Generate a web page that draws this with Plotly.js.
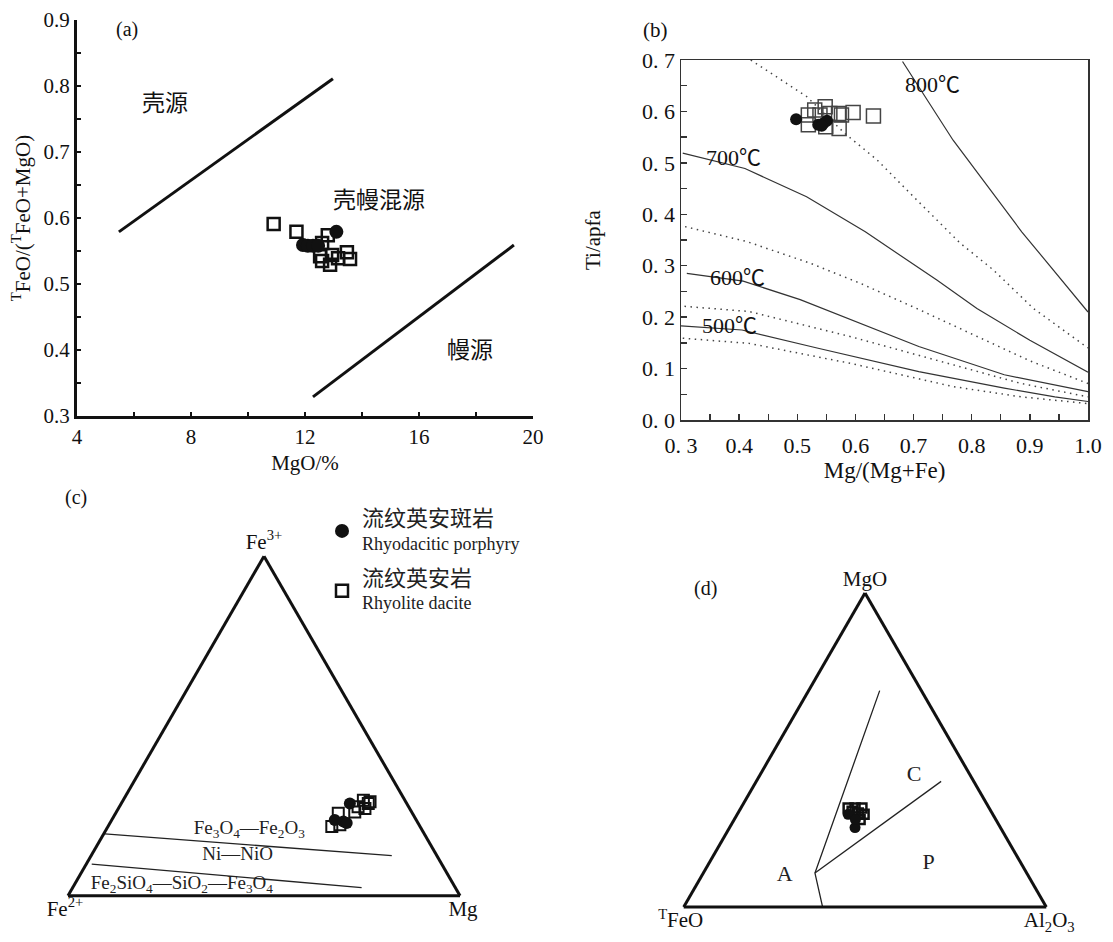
<!DOCTYPE html>
<html><head><meta charset="utf-8">
<script src="https://cdn.plot.ly/plotly-3.0.1.min.js"></script>
<style>html,body{margin:0;padding:0;background:#fff}</style>
</head><body><div id="chart" style="width:1113px;height:942px"></div>
<script>
// ---------- Panel (a): TFeO/(TFeO+MgO) vs MgO ----------
const aPorphyryMgO   = [13.1, 11.93, 12.1, 12.28, 12.46];
const aPorphyryRatio = [0.579, 0.559, 0.558, 0.558, 0.558];
const aDaciteMgO     = [10.9, 11.7, 12.8, 12.6, 12.53, 12.6, 12.88, 12.95, 13.16, 13.47, 13.58];
const aDaciteRatio   = [0.591, 0.579, 0.574, 0.562, 0.542, 0.535, 0.529, 0.544, 0.539, 0.548, 0.538];
const aUpperLineX = [5.47, 12.98];
const aUpperLineY = [0.579, 0.811];
const aLowerLineX = [12.28, 19.33];
const aLowerLineY = [0.329, 0.559];

// ---------- Panel (b): Ti vs Mg/(Mg+Fe) ----------
const bPorphyryX = [0.498, 0.536, 0.545, 0.551, 0.542];
const bPorphyryY = [0.585, 0.574, 0.577, 0.582, 0.572];
const bDaciteX = [0.519, 0.519, 0.53, 0.548, 0.556, 0.571, 0.576, 0.596, 0.631, 0.572, 0.549, 0.539];
const bDaciteY = [0.593, 0.574, 0.603, 0.609, 0.596, 0.596, 0.593, 0.598, 0.591, 0.567, 0.570, 0.593];
const b800X = [0.681, 0.768, 0.886, 1.0];
const b800Y = [0.697, 0.544, 0.366, 0.21];
const b700X = [0.303, 0.41, 0.516, 0.617, 0.74, 0.809, 0.9, 1.0];
const b700Y = [0.519, 0.489, 0.434, 0.366, 0.272, 0.217, 0.155, 0.093];
const b600X = [0.31, 0.407, 0.505, 0.709, 0.856, 1.0];
const b600Y = [0.285, 0.27, 0.234, 0.143, 0.088, 0.055];
const b500X = [0.30, 0.405, 0.534, 0.709, 0.856, 0.943, 1.0];
const b500Y = [0.183, 0.175, 0.14, 0.094, 0.062, 0.045, 0.036];
const bDot1X = [0.42, 0.516, 0.582, 0.637, 0.70, 0.78, 0.837, 0.906, 1.0];
const bDot1Y = [0.70, 0.629, 0.557, 0.506, 0.434, 0.344, 0.292, 0.217, 0.14];
const bDot2X = [0.307, 0.413, 0.522, 0.608, 0.705, 0.80, 0.90, 1.0];
const bDot2Y = [0.376, 0.347, 0.305, 0.266, 0.217, 0.168, 0.115, 0.071];
const bDot3X = [0.306, 0.417, 0.592, 0.768, 0.885, 1.0];
const bDot3Y = [0.221, 0.211, 0.162, 0.107, 0.071, 0.045];
const bDot4X = [0.303, 0.417, 0.592, 0.768, 0.885, 1.0];
const bDot4Y = [0.159, 0.149, 0.11, 0.065, 0.045, 0.032];
const bXTickVals = [0.3, 0.4, 0.5, 0.6, 0.7, 0.8, 0.9, 1.0];
const bXTickText = ['0.\u00a03', '0.4', '0.5', '0.6', '0.7', '0.8', '0.9', '1.0'];
const bYTickVals = [0, 0.1, 0.2, 0.3, 0.4, 0.5, 0.6, 0.7];
const bYTickText = ['0.\u00a00', '0.\u00a01', '0.\u00a02', '0.\u00a03', '0.\u00a04', '0.\u00a05', '0.\u00a06', '0.\u00a07'];
const bIsoLabels = ['800℃', '700℃', '600℃', '500℃'];
const bIsoLabelX = [0.732, 0.39, 0.398, 0.383];
const bIsoLabelY = [0.653, 0.511, 0.278, 0.183];

// ---------- Panel (c): Fe3+ - Fe2+ - Mg ----------
const cPorFe3 = [0.272, 0.223, 0.219, 0.214];
const cPorFe2 = [0.145, 0.208, 0.188, 0.182];
const cPorMg  = [0.583, 0.569, 0.593, 0.604];
const cDacFe3 = [0.281, 0.272, 0.257, 0.262, 0.243, 0.204, 0.209, 0.247, 0.277];
const cDacFe2 = [0.106, 0.098, 0.114, 0.129, 0.189, 0.225, 0.202, 0.145, 0.091];
const cDacMg  = [0.613, 0.630, 0.629, 0.609, 0.568, 0.571, 0.589, 0.608, 0.632];
const cHmMtFe3 = [0.182, 0.118], cHmMtFe2 = [0.815, 0.115], cHmMtMg = [0.003, 0.767];
const cNnoFe3  = [0.093, 0.024], cNnoFe2  = [0.893, 0.239], cNnoMg  = [0.014, 0.737];
const cLabels  = ['Fe<sub>3</sub>O<sub>4</sub>—Fe<sub>2</sub>O<sub>3</sub>', 'Ni—NiO',
                  'Fe<sub>2</sub>SiO<sub>4</sub>—SiO<sub>2</sub>—Fe<sub>3</sub>O<sub>4</sub>'];
const cLabelFe3 = [0.195, 0.118, 0.035];
const cLabelFe2 = [0.440, 0.508, 0.692];
const cLabelMg  = [0.365, 0.374, 0.273];

// ---------- Panel (d): MgO - TFeO - Al2O3 ----------
const dPorMgO = [0.295, 0.253, 0.279];
const dPorFeO = [0.399, 0.401, 0.387];
const dPorAl  = [0.306, 0.346, 0.334];
const dDacMgO = [0.315, 0.315, 0.315, 0.295, 0.279, 0.305, 0.299];
const dDacFeO = [0.389, 0.370, 0.351, 0.355, 0.374, 0.383, 0.369];
const dDacAl  = [0.296, 0.315, 0.334, 0.350, 0.347, 0.312, 0.332];
const dBound1MgO = [0.689, 0.108, 0.0], dBound1FeO = [0.115, 0.584, 0.617], dBound1Al = [0.196, 0.308, 0.383];
const dBound2MgO = [0.108, 0.40], dBound2FeO = [0.584, 0.09], dBound2Al = [0.308, 0.51];
const dLabels = ['A', 'C', 'P'];
const dLabelMgO = [0.099, 0.419, 0.137];
const dLabelFeO = [0.672, 0.155, 0.256];
const dLabelAl  = [0.229, 0.426, 0.607];

const legendPorphyry = '<span style="font-size:22px">流纹英安斑岩</span><br>Rhyodacitic porphyry';
const legendDacite   = '<span style="font-size:22px">流纹英安岩</span><br>Rhyolite dacite';

// ---------- build ----------
const FONT = '"Liberation Serif", "Times New Roman", "Noto Sans CJK SC", serif';
const W = 1113, H = 942;
const px = v => v / W, py = v => 1 - v / H;
const black = '#111';
const circ = (size) => ({symbol: 'circle', size: size, color: black, line: {width: 0}});
const sq = (size, lw, col) => ({symbol: 'square-open', size: size, color: col || black, line: {width: lw, color: col || black}});
const solid = {color: '#333', width: 1.2};
const dotted = {color: '#444', width: 1.5, dash: '1.5px,4.5px'};

const traces = [
  // (a)
  {x: aUpperLineX, y: aUpperLineY, mode: 'lines', line: {color: black, width: 3}, xaxis: 'x', yaxis: 'y', showlegend: false},
  {x: aLowerLineX, y: aLowerLineY, mode: 'lines', line: {color: black, width: 3}, xaxis: 'x', yaxis: 'y', showlegend: false},
  {x: aDaciteMgO, y: aDaciteRatio, mode: 'markers', marker: sq(12, 2.5), xaxis: 'x', yaxis: 'y',
   name: legendDacite, legendgroup: 'g2', legendrank: 2},
  {x: aPorphyryMgO, y: aPorphyryRatio, mode: 'markers', marker: circ(14), xaxis: 'x', yaxis: 'y',
   name: legendPorphyry, legendgroup: 'g1', legendrank: 1},
  // (b)
  {x: b800X, y: b800Y, mode: 'lines', line: solid, xaxis: 'x2', yaxis: 'y2', showlegend: false},
  {x: b700X, y: b700Y, mode: 'lines', line: solid, xaxis: 'x2', yaxis: 'y2', showlegend: false},
  {x: b600X, y: b600Y, mode: 'lines', line: solid, xaxis: 'x2', yaxis: 'y2', showlegend: false},
  {x: b500X, y: b500Y, mode: 'lines', line: solid, xaxis: 'x2', yaxis: 'y2', showlegend: false},
  {x: bDot1X, y: bDot1Y, mode: 'lines', line: dotted, xaxis: 'x2', yaxis: 'y2', showlegend: false},
  {x: bDot2X, y: bDot2Y, mode: 'lines', line: dotted, xaxis: 'x2', yaxis: 'y2', showlegend: false},
  {x: bDot3X, y: bDot3Y, mode: 'lines', line: dotted, xaxis: 'x2', yaxis: 'y2', showlegend: false},
  {x: bDot4X, y: bDot4Y, mode: 'lines', line: dotted, xaxis: 'x2', yaxis: 'y2', showlegend: false},
  {x: bDaciteX, y: bDaciteY, mode: 'markers', marker: sq(14, 1.5, '#444'), xaxis: 'x2', yaxis: 'y2', showlegend: false},
  {x: bPorphyryX, y: bPorphyryY, mode: 'markers', marker: circ(12), xaxis: 'x2', yaxis: 'y2', showlegend: false},
  // (c)
  {type: 'scatterternary', subplot: 'ternary', a: cHmMtFe3, b: cHmMtFe2, c: cHmMtMg, mode: 'lines', line: {color: '#222', width: 1.3}, showlegend: false},
  {type: 'scatterternary', subplot: 'ternary', a: cNnoFe3, b: cNnoFe2, c: cNnoMg, mode: 'lines', line: {color: '#222', width: 1.3}, showlegend: false},
  {type: 'scatterternary', subplot: 'ternary', a: cLabelFe3, b: cLabelFe2, c: cLabelMg, mode: 'text', text: cLabels,
   textfont: {family: FONT, size: 19, color: '#222'}, textposition: 'middle center', showlegend: false},
  {type: 'scatterternary', subplot: 'ternary', a: cDacFe3, b: cDacFe2, c: cDacMg, mode: 'markers', marker: sq(11, 2), showlegend: false},
  {type: 'scatterternary', subplot: 'ternary', a: cPorFe3, b: cPorFe2, c: cPorMg, mode: 'markers', marker: circ(12), showlegend: false},
  // (d)
  {type: 'scatterternary', subplot: 'ternary2', a: dBound1MgO, b: dBound1FeO, c: dBound1Al, mode: 'lines', line: {color: '#222', width: 1.3}, showlegend: false},
  {type: 'scatterternary', subplot: 'ternary2', a: dBound2MgO, b: dBound2FeO, c: dBound2Al, mode: 'lines', line: {color: '#222', width: 1.3}, showlegend: false},
  {type: 'scatterternary', subplot: 'ternary2', a: dLabelMgO, b: dLabelFeO, c: dLabelAl, mode: 'text', text: dLabels,
   textfont: {family: FONT, size: 22, color: '#222'}, textposition: 'middle center', showlegend: false},
  {type: 'scatterternary', subplot: 'ternary2', a: dDacMgO, b: dDacFeO, c: dDacAl, mode: 'markers', marker: sq(9, 2.5), showlegend: false},
  {type: 'scatterternary', subplot: 'ternary2', a: dPorMgO, b: dPorFeO, c: dPorAl, mode: 'markers', marker: circ(11), showlegend: false}
];

const tickFontA = {family: FONT, size: 21, color: black};
const tickFontB = {family: FONT, size: 22, color: black};
const ternAxis = (title) => ({
  title: {text: title, font: {family: FONT, size: 21, color: black}},
  showline: true, linewidth: 3, linecolor: black, showgrid: false,
  showticklabels: false, ticks: '', min: 0
});
const ann = (xr, yr, x, y, text, size) => ({xref: xr, yref: yr, x: x, y: y, text: text, showarrow: false,
  xanchor: 'center', yanchor: 'middle', font: {family: FONT, size: size, color: black}});

const annotations = [
  ann('x', 'y', 5.75, 0.885, '(a)', 20),
  ann('x', 'y', 7.1, 0.774, '壳源', 23),
  ann('x', 'y', 14.6, 0.627, '壳幔混源', 23),
  ann('x', 'y', 17.8, 0.40, '幔源', 23),
  ann('paper', 'paper', px(655), py(30), '(b)', 21),
  ann('paper', 'paper', px(76), py(497), '(c)', 20),
  ann('paper', 'paper', px(705), py(588), '(d)', 20)
];
bIsoLabels.forEach((t, i) => annotations.push(ann('x2', 'y2', bIsoLabelX[i], bIsoLabelY[i], t, 22)));

const layout = {
  width: W, height: H, autosize: false,
  margin: {l: 0, r: 0, t: 0, b: 0},
  paper_bgcolor: '#fff', plot_bgcolor: 'rgba(0,0,0,0)',
  font: {family: FONT, color: black},
  showlegend: true,
  legend: {x: px(322), y: py(501), xanchor: 'left', yanchor: 'top', bgcolor: 'rgba(0,0,0,0)',
           font: {family: FONT, size: 18, color: '#222'}, traceorder: 'grouped', tracegroupgap: 10, itemwidth: 30},
  xaxis: {domain: [px(77), px(533)], range: [4, 20], anchor: 'y', showline: true, linewidth: 3, linecolor: black,
          mirror: false, showgrid: false, zeroline: false, ticks: 'inside', ticklen: 4, tickwidth: 2, tickcolor: black,
          tick0: 4, dtick: 4, tickfont: tickFontA,
          minor: {dtick: 2, ticks: 'inside', ticklen: 4, tickwidth: 2, tickcolor: black, showgrid: false},
          title: {text: 'MgO/%', font: {family: FONT, size: 21, color: black}, standoff: 8}},
  yaxis: {domain: [py(416), py(20)], range: [0.3, 0.9], anchor: 'x', showline: true, linewidth: 3, linecolor: black,
          mirror: false, showgrid: false, zeroline: false, ticks: 'inside', ticklen: 4, tickwidth: 2, tickcolor: black,
          tick0: 0.3, dtick: 0.1, tickformat: '.1f', tickfont: tickFontA,
          minor: {dtick: 0.05, ticks: 'inside', ticklen: 4, tickwidth: 2, tickcolor: black, showgrid: false},
          title: {text: '<sup>T</sup>FeO/(<sup>T</sup>FeO+MgO)', font: {family: FONT, size: 21, color: black}, standoff: 8}},
  xaxis2: {domain: [px(681), px(1088)], range: [0.3, 1.0], anchor: 'y2', showline: true, linewidth: 1.5, linecolor: '#333',
           mirror: true, showgrid: false, zeroline: false, ticks: 'inside', ticklen: 6, tickwidth: 1.3, tickcolor: '#333',
           tickvals: bXTickVals, ticktext: bXTickText, tickfont: tickFontB, ticklabelstandoff: 5,
           minor: {dtick: 0.05, ticks: 'inside', ticklen: 6, tickwidth: 1.3, tickcolor: '#333', showgrid: false},
           title: {text: 'Mg/(Mg+Fe)', font: {family: FONT, size: 23, color: black}, standoff: 0}},
  yaxis2: {domain: [py(420), py(60)], range: [0, 0.7], anchor: 'x2', showline: true, linewidth: 1.5, linecolor: '#333',
           mirror: true, showgrid: false, zeroline: false, ticks: 'inside', ticklen: 6, tickwidth: 1.3, tickcolor: '#333',
           tickvals: bYTickVals, ticktext: bYTickText, tickfont: tickFontB,
           minor: {dtick: 0.05, ticks: 'inside', ticklen: 6, tickwidth: 1.3, tickcolor: '#333', showgrid: false},
           title: {text: 'Ti/apfa', font: {family: FONT, size: 21, color: black}, standoff: 35}},
  ternary: {domain: {x: [px(68), px(460)], y: [py(901), py(551)]}, sum: 1, bgcolor: 'rgba(0,0,0,0)',
            aaxis: ternAxis('Fe<sup>3+</sup>'), baxis: ternAxis('Fe<sup>2+</sup>'), caxis: ternAxis('Mg')},
  ternary2: {domain: {x: [px(680), px(1050)], y: [py(907), py(593)]}, sum: 1, bgcolor: 'rgba(0,0,0,0)',
             aaxis: ternAxis('MgO'), baxis: ternAxis('<sup>T</sup>FeO'), caxis: ternAxis('Al<sub>2</sub>O<sub>3</sub>')},
  annotations: annotations
};

Plotly.newPlot('chart', traces, layout, {staticPlot: true, displayModeBar: false});
</script></body></html>
